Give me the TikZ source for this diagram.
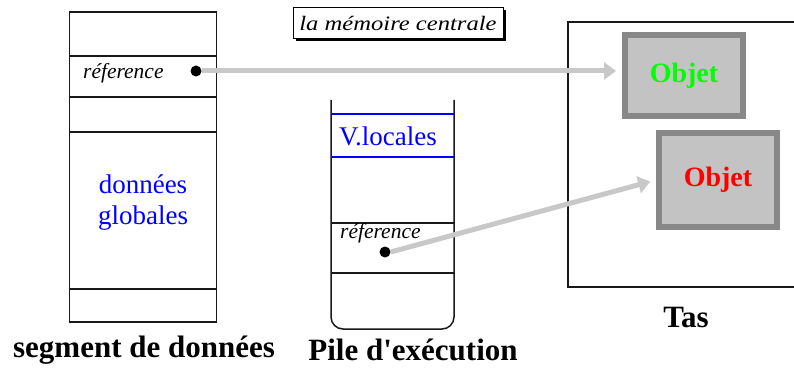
\documentclass[tikz,border=0pt]{standalone}
\usepackage{fontspec}
\setmainfont{Liberation Serif}
\usetikzlibrary{arrows.meta}
\definecolor{arrowgray}{HTML}{C8C8C8}
\definecolor{objborder}{HTML}{888888}
\definecolor{objfill}{HTML}{C3C3C3}
\definecolor{limegreen}{HTML}{00FF00}
\begin{document}
\begin{tikzpicture}[x=1pt,y=-1pt,
  frame/.style={draw=black!90,line width=1.5pt},
  sep/.style={draw=black!90,line width=1.3pt},
  bluesep/.style={draw=blue,line width=1.3pt},
  reftext/.style={font=\itshape\fontsize{21.5}{22}\selectfont,inner sep=0pt,anchor=base west},
  refdot/.style={circle,fill=black,inner sep=0pt,minimum size=11pt},
  ptr/.style={draw=arrowgray,line width=5pt,-{Triangle[length=12pt,width=17pt]},shorten >=6pt},
  objet/.style={draw=objborder,line width=6pt,fill=objfill,inner sep=0pt,minimum width=118pt,font=\bfseries\fontsize{28}{30}\selectfont},
  caption/.style={font=\bfseries\fontsize{31}{33}\selectfont,inner sep=0pt},
  bluetext/.style={text=blue,font=\fontsize{27}{31}\selectfont,inner sep=0pt,align=center}
]
\useasboundingbox (0,0) rectangle (794,371);

% title box with shadow
\fill[black] (296,10) rectangle (506,41);
\node[draw=black,line width=1pt,fill=white,minimum width=210pt,minimum height=31pt,inner sep=0pt,
      font=\itshape\fontsize{20.5}{22}\selectfont] (titre) at (398,23) {\scalebox{1.2}[1]{la mémoire centrale}};

% segment de donnees
\node[frame,minimum width=147pt,minimum height=310pt,inner sep=0pt] (seg) at (143,167) {};
\coordinate (s1) at (69,56);  \coordinate (s1e) at (217,56);
\coordinate (s2) at (69,97);  \coordinate (s2e) at (217,97);
\coordinate (s3) at (69,132); \coordinate (s3e) at (217,132);
\coordinate (s4) at (69,289); \coordinate (s4e) at (217,289);
\draw[sep] (s1) -- (s1e);
\draw[sep] (s2) -- (s2e);
\draw[sep] (s3) -- (s3e);
\draw[sep] (s4) -- (s4e);
\node[reftext] (ref1) at (83,79) {réference};
\node[refdot] (dot1) at (196,71) {};
\node[bluetext] (glob) at (143,203) {données\\globales};
\node[caption] (capseg) at (144,350) {segment de données};

% pile d'execution
\coordinate (pa) at (331,100);
\coordinate (pb) at (454,100);
\draw[frame,rounded corners=12pt] (pa) -- (331,329) -- (454,329) -- (pb);
\coordinate (p1) at (331,114); \coordinate (p1e) at (454,114);
\coordinate (p2) at (331,157); \coordinate (p2e) at (454,157);
\coordinate (p3) at (331,223); \coordinate (p3e) at (454,223);
\coordinate (p4) at (331,273); \coordinate (p4e) at (454,273);
\draw[bluesep] (p1) -- (p1e);
\draw[bluesep] (p2) -- (p2e);
\draw[sep] (p3) -- (p3e);
\draw[sep] (p4) -- (p4e);
\node[text=blue,font=\fontsize{27}{29}\selectfont,inner sep=0pt] (vloc) at (388,136) {V.locales};
\node[reftext] (ref2) at (340,239) {réference};
\node[refdot] (dot2) at (385,252) {};
\node[caption] (cappile) at (413,350) {Pile d\textquotesingle exécution};

% tas
\coordinate (t0) at (794,22);
\coordinate (t1) at (794,287);
\draw[frame] (t0) -- (568,22) -- (568,287) -- (t1);
\node[objet,minimum height=81pt,text=limegreen] (obj1) at (684,75.5) {Objet};
\node[objet,minimum height=94pt,text=red] (obj2) at (718,180) {Objet};
\node[caption] (captas) at (686,318) {Tas};

% pointeurs
\draw[ptr] (dot1.east) -- (obj1.west |- dot1);
\draw[ptr] (dot2.east) -- (obj2.west);
\end{tikzpicture}
\end{document}
